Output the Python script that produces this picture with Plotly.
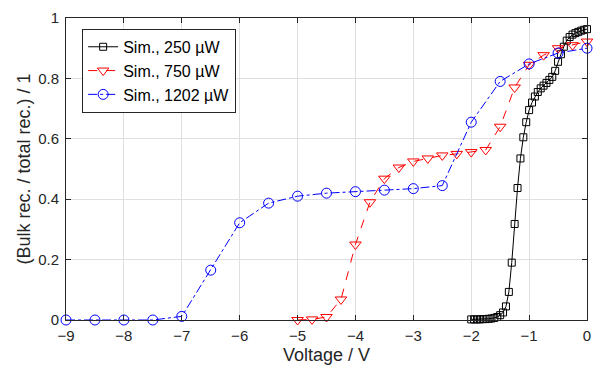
import plotly.graph_objects as go

# Sim., 250 uW (black)
v250 = [-2.0, -1.95, -1.9, -1.85, -1.8, -1.75, -1.7, -1.65, -1.6, -1.55, -1.5, -1.45, -1.4,
        -1.35, -1.3, -1.25, -1.2, -1.15, -1.1, -1.05, -1.0, -0.95, -0.9, -0.85, -0.8, -0.75,
        -0.7, -0.65, -0.6, -0.55, -0.5, -0.45, -0.4, -0.35, -0.3, -0.25, -0.2, -0.15, -0.1,
        -0.05, 0.0]
r250 = [0.002, 0.002, 0.002, 0.002, 0.003, 0.003, 0.004, 0.005, 0.007, 0.010, 0.016, 0.025,
        0.045, 0.093, 0.190, 0.318, 0.437, 0.535, 0.605, 0.655, 0.695, 0.720, 0.740, 0.755,
        0.767, 0.776, 0.785, 0.795, 0.805, 0.825, 0.855, 0.880, 0.905, 0.925, 0.937, 0.945,
        0.950, 0.954, 0.958, 0.961, 0.963]

# Sim., 750 uW (red)
v750 = [-5.0, -4.75, -4.5, -4.25, -4.0, -3.75, -3.5, -3.25, -3.0, -2.75, -2.5, -2.25, -2.0,
        -1.75, -1.5, -1.25, -1.0, -0.75, -0.5, -0.25, 0.0]
r750 = [0.0, 0.002, 0.010, 0.068, 0.250, 0.390, 0.468, 0.505, 0.525, 0.535, 0.545, 0.550,
        0.556, 0.563, 0.640, 0.770, 0.845, 0.877, 0.900, 0.910, 0.922]

# Sim., 1202 uW (blue)
v1202 = [-9.0, -8.5, -8.0, -7.5, -7.0, -6.5, -6.0, -5.5, -5.0, -4.5, -4.0, -3.5, -3.0, -2.5,
         -2.0, -1.5, -1.0, -0.5, 0.0]
r1202 = [0.0, 0.0, 0.0, 0.0, 0.012, 0.165, 0.322, 0.387, 0.410, 0.420, 0.425, 0.430, 0.435,
         0.445, 0.655, 0.790, 0.848, 0.884, 0.900]

xticks = [-9, -8, -7, -6, -5, -4, -3, -2, -1, 0]
yticks = [0, 0.2, 0.4, 0.6, 0.8, 1]
ytick_labels = ["0", "0.2", "0.4", "0.6", "0.8", "1"]

FONT = "Liberation Sans, Arial, sans-serif"
AX = "#262626"

fig = go.Figure()
fig.add_trace(go.Scatter(
    x=v250, y=r250, name="Sim., 250 µW", mode="lines+markers",
    line=dict(color="black", width=1),
    marker=dict(symbol="square-open", size=7, color="black", line=dict(width=1)),
    cliponaxis=False))
fig.add_trace(go.Scatter(
    x=v750, y=r750, name="Sim., 750 µW", mode="lines+markers",
    line=dict(color="red", width=1, dash="dash"),
    marker=dict(symbol="triangle-down-open", size=10, color="red", line=dict(width=1)),
    cliponaxis=False))
fig.add_trace(go.Scatter(
    x=v1202, y=r1202, name="Sim., 1202 µW", mode="lines+markers",
    line=dict(color="blue", width=1, dash="dashdot"),
    marker=dict(symbol="circle-open", size=10, color="blue", line=dict(width=1)),
    cliponaxis=False))

axis_common = dict(
    showline=True, linecolor=AX, linewidth=1, mirror="ticks",
    ticks="inside", ticklen=5, tickcolor=AX,
    showgrid=True, gridcolor="#dfdfdf", gridwidth=1, zeroline=False,
    tickfont=dict(family=FONT, size=15, color=AX),
    automargin=False,
)

fig.update_xaxes(range=[-9, 0], tickvals=xticks, ticklabelstandoff=2,
                 title=dict(text="Voltage / V", standoff=7,
                            font=dict(family=FONT, size=18, color=AX)),
                 **axis_common)
fig.update_yaxes(range=[0, 1], tickvals=yticks, ticktext=ytick_labels, ticklabelstandoff=3,
                 title=dict(text="(Bulk rec. / total rec.) / 1", standoff=2,
                            font=dict(family=FONT, size=18, color=AX)),
                 **axis_common)

fig.update_layout(
    width=593, height=365,
    margin=dict(l=66, r=6, t=18, b=45),
    plot_bgcolor="white", paper_bgcolor="white",
    font=dict(family=FONT, size=15, color=AX),
    legend=dict(x=0.031, y=0.964, xanchor="left", yanchor="top",
                bgcolor="white", bordercolor=AX, borderwidth=1,
                font=dict(family=FONT, size=16, color="black"),
                tracegroupgap=0, itemwidth=30),
    showlegend=True,
)

fig.write_html("out.html", config={"displayModeBar": False},
               post_script="document.body.style.margin='0';document.body.style.padding='0';")
